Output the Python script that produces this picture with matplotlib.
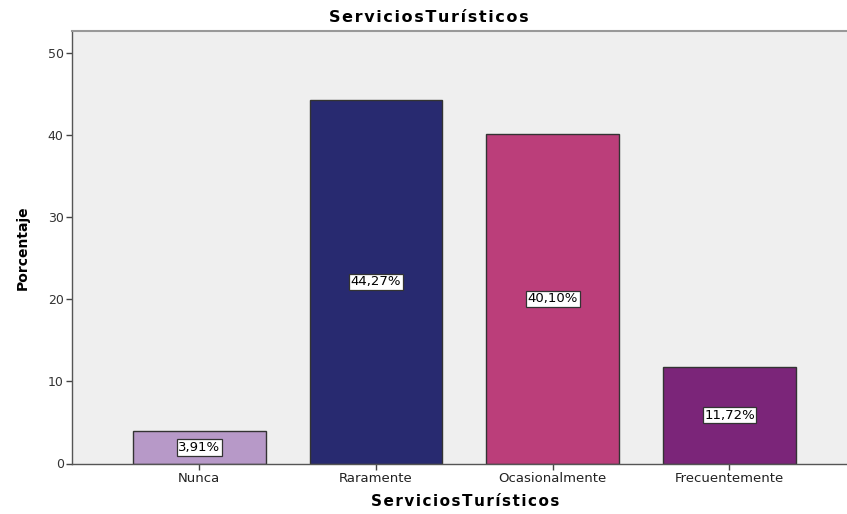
import matplotlib
matplotlib.use("Agg")
from matplotlib import pyplot as plt

categories = ["Nunca", "Raramente", "Ocasionalmente", "Frecuentemente"]
percentages = [3.91, 44.27, 40.10, 11.72]
bar_colors = ["#b799c8", "#282a70", "#bb3e7a", "#7b2579"]
y_ticks = [0, 10, 20, 30, 40, 50]
title_str = "ServiciosTurísticos"


def spaced(s):
    # SPSS output is stretched, so pad letters with hair spaces
    return "\u200a".join(s)


plt.rcParams['font.family'] = ['DejaVu Sans']

fig = plt.figure(figsize=(8.47, 5.14), dpi=100)
ax = fig.add_axes([72 / 847, 1 - 463.5 / 514, 1 - 72 / 847, (463.5 - 31) / 514])
ax.set_facecolor("#efefef")

x = range(len(categories))
ax.bar(x, percentages, width=0.75, color=bar_colors, edgecolor="#333333", linewidth=1.0, zorder=2)

# value labels in the middle of each bar
for xi, v in zip(x, percentages):
    lab = "{:.2f}%".format(v).replace(".", ",")
    ax.text(xi, v / 2, lab, ha="center", va="center", fontsize=9.5, zorder=3,
            bbox=dict(boxstyle="square,pad=0.12", facecolor="white", edgecolor="#333333", linewidth=0.9))

ax.set_xlim(-0.72, 3.665)
ax.set_ylim(0, 52.7)
ax.set_xticks(list(x))
ax.set_xticklabels(categories, fontsize=9.5, color="#222222")
ax.set_yticks(y_ticks)
ax.set_yticklabels([str(t) for t in y_ticks], fontsize=9, color="#333333")

ax.spines['right'].set_visible(False)
ax.spines['top'].set_color("#999999")
ax.spines['top'].set_linewidth(1.5)
ax.spines['left'].set_color("#555555")
ax.spines['bottom'].set_color("#555555")
ax.spines['left'].set_linewidth(1.0)
ax.spines['bottom'].set_linewidth(1.0)
ax.tick_params(axis='both', length=4, width=1.0, color="#444444", pad=2)

ax.set_ylabel("Porcentaje", fontsize=10, fontweight="bold", labelpad=13)
ax.set_xlabel(spaced("ServiciosTurísticos"), fontsize=11, fontweight="bold", labelpad=7)
ax.xaxis.set_label_coords(0.507, -0.07)
fig.text(429 / 847, 1 - 17 / 514, spaced(title_str), ha="center", va="center",
         fontsize=11.5, fontweight="bold")

fig.savefig("out.png", dpi=100)
